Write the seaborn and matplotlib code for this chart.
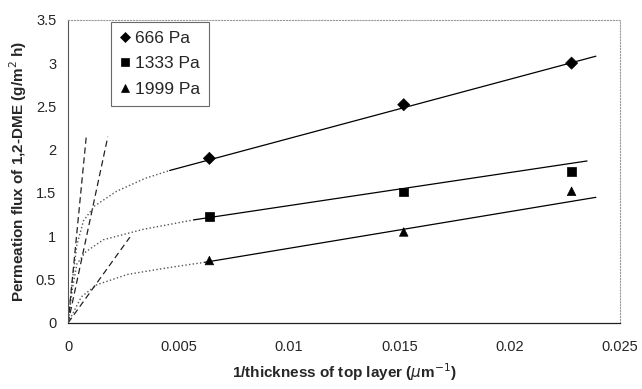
# -*- encoding utf-8 -*-
# Permeation flux of 1,2-DME vs 1/thickness of top layer

# %% libraries
import matplotlib
matplotlib.use('Agg')
import matplotlib.pyplot as plt
import seaborn as sns
import pandas as pd

# %% data
pressures = ['666 Pa', '1333 Pa', '1999 Pa']
markers = ['D', 's', '^']

inv_thick = [0.0064, 0.0152, 0.0228]
flux_666 = [1.90, 2.52, 3.00]
flux_1333 = [1.23, 1.51, 1.75]
flux_1999 = [0.72, 1.05, 1.52]

# fitted straight lines (start, end)
fit_x_666 = [0.0046, 0.0239]
fit_y_666 = [1.76, 3.08]
fit_x_1333 = [0.0057, 0.0235]
fit_y_1333 = [1.19, 1.87]
fit_x_1999 = [0.0062, 0.0239]
fit_y_1999 = [0.70, 1.45]

# dotted extrapolation curves towards the origin
curve_x_666 = [0, 0.0002, 0.0004, 0.0007, 0.0012, 0.0022, 0.0035, 0.0046]
curve_y_666 = [0, 0.50, 0.90, 1.18, 1.35, 1.52, 1.67, 1.76]
curve_x_1333 = [0, 0.0002, 0.0004, 0.0008, 0.0016, 0.0034, 0.0057]
curve_y_1333 = [0, 0.40, 0.68, 0.82, 0.96, 1.08, 1.19]
curve_x_1999 = [0, 0.0006, 0.0013, 0.0027, 0.0046, 0.0062]
curve_y_1999 = [0, 0.30, 0.44, 0.56, 0.64, 0.70]

# dashed initial slopes from the origin
dash_x = [[0, 0.00082], [0, 0.0018], [0, 0.0028]]
dash_y = [[0, 2.14], [0, 2.15], [0, 0.99]]

df = pd.DataFrame({
    'x': inv_thick * 3,
    'y': flux_666 + flux_1333 + flux_1999,
    'p': [p for p in pressures for _ in inv_thick],
})

# %% plot
sns.set_style('white')
plt.rcParams['font.family'] = ['Liberation Sans', 'DejaVu Sans']

fig = plt.figure(figsize=(6.42, 3.89), dpi=100)
ax = fig.add_axes([0.106, 0.170, 0.860, 0.779])

for cx, cy in [(curve_x_666, curve_y_666), (curve_x_1333, curve_y_1333),
               (curve_x_1999, curve_y_1999)]:
    sns.lineplot(x=cx, y=cy, ax=ax, color='#555555', lw=1.0,
                 linestyle=':', sort=False, estimator=None)

for dx, dy in zip(dash_x, dash_y):
    sns.lineplot(x=dx, y=dy, ax=ax, color='#222222', lw=0.9,
                 linestyle=(0, (5, 3)), estimator=None)

for fx, fy in [(fit_x_666, fit_y_666), (fit_x_1333, fit_y_1333),
               (fit_x_1999, fit_y_1999)]:
    sns.lineplot(x=fx, y=fy, ax=ax, color='black', lw=0.9, estimator=None)

sns.scatterplot(data=df, x='x', y='y', style='p', markers=markers,
                style_order=pressures, color='black', s=38,
                edgecolor='black', ax=ax, zorder=5)

# axes
ax.set_xlim(0, 0.025)
ax.set_ylim(0, 3.5)
ax.set_xticks([0, 0.005, 0.01, 0.015, 0.02, 0.025])
ax.set_xticklabels(['0', '0.005', '0.01', '0.015', '0.02', '0.025'])
ax.set_yticks([0, 0.5, 1, 1.5, 2, 2.5, 3, 3.5])
ax.set_yticklabels(['0', '0.5', '1', '1.5', '2', '2.5', '3', '3.5'])
ax.tick_params(axis='both', labelsize=10.5, length=3, width=0.6,
               direction='inout', color='#555555')
ax.tick_params(axis='x', pad=11)
ax.tick_params(axis='y', pad=7)
ax.set_xlabel(r'1/thickness of top layer ($\mu$m$^{-1}$)',
              fontsize=11, fontweight='bold', labelpad=5)
ax.set_ylabel('Permeation flux of 1,2-DME (g/m$^2$ h)',
              fontsize=11, fontweight='bold', labelpad=5)

for side in ['top', 'right']:
    ax.spines[side].set_color('#999999')
    ax.spines[side].set_linestyle(':')
    ax.spines[side].set_linewidth(0.8)
ax.spines['left'].set_color('#555555')
ax.spines['left'].set_linewidth(0.8)
ax.spines['bottom'].set_color('#222222')
ax.spines['bottom'].set_linewidth(0.9)

# legend
handles, labels = ax.get_legend_handles_labels()
leg = ax.legend(handles, labels, loc='upper left',
                bbox_to_anchor=(0.078, 0.993), borderaxespad=0,
                fontsize=12.5, frameon=True, fancybox=False,
                handlelength=0.6, handletextpad=0.3, borderpad=0.5,
                labelspacing=0.6, markerscale=0.85)
leg.get_frame().set_edgecolor('#444444')
leg.get_frame().set_linewidth(0.8)

fig.savefig('out.png', dpi=100)
